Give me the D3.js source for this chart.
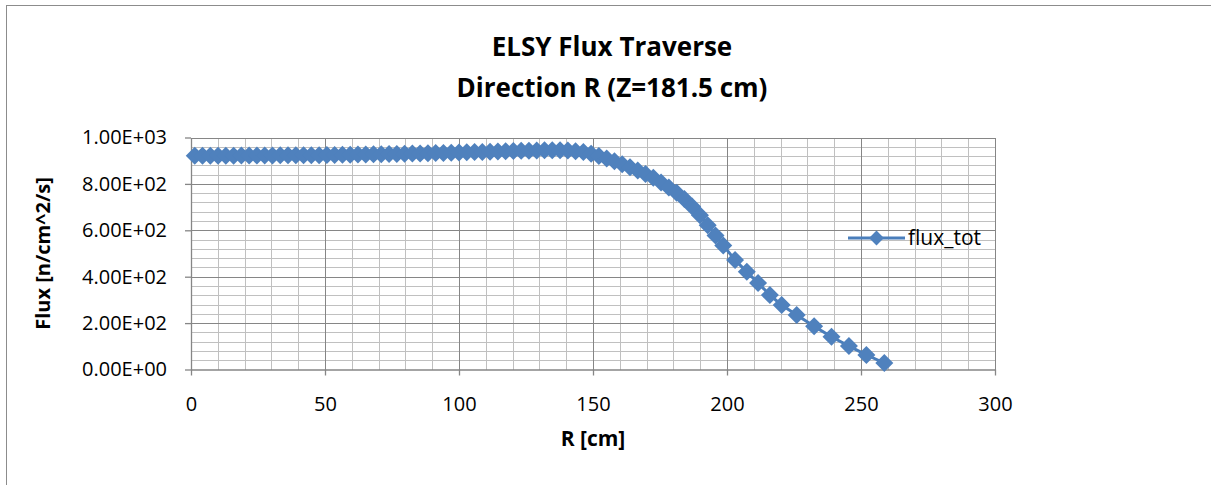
<!DOCTYPE html>
<html>
<head>
<meta charset="utf-8">
<script src="https://cdn.jsdelivr.net/npm/d3@7"></script>
<style>
    body { margin: 0; background: #fff; }
    svg { display: block; font-family: "Open Sans", Lato, sans-serif; }
</style>
</head>
<body>
<svg id="chart" width="1211" height="485"></svg>
<script>
// flux traverse along R
const radius = [
    1.4, 4.3, 7.2, 10.1, 13.0, 15.9, 18.8, 21.7, 24.6, 27.5,
    30.4, 33.3, 36.2, 39.1, 42.0, 44.9, 47.8, 50.7, 53.6, 56.5,
    59.4, 62.3, 65.2, 68.1, 71.0, 73.9, 76.8, 79.7, 82.6, 85.5,
    88.4, 91.3, 94.2, 97.1, 100.0, 102.9, 105.8, 108.7, 111.6, 114.5,
    117.4, 120.3, 123.2, 126.1, 129.0, 131.9, 134.8, 137.7, 140.6, 143.5,
    146.4, 149.3, 152.2, 155.1, 158.0, 160.9, 163.8, 166.7, 169.6, 172.5,
    175.4, 178.3, 181.2, 184.1, 187.0, 189.9, 192.8, 195.7, 198.6, 203.0,
    207.4, 211.6, 216.0, 220.4, 226.0, 232.5, 239.0, 245.5, 252.0, 258.7
];
const fluxTot = [
    921, 921, 921, 921, 921, 921, 922, 922, 922, 922,
    922, 923, 923, 923, 924, 924, 924, 925, 925, 926,
    926, 927, 927, 928, 928, 929, 929, 930, 931, 931,
    932, 933, 933, 934, 935, 936, 937, 938, 939, 940,
    941, 942, 943, 943, 944, 945, 945, 945, 944, 941,
    937, 930, 920, 910, 898, 885, 872, 858, 843, 826,
    806, 785, 762, 735, 703, 665, 622, 578, 535, 472,
    421, 373, 321, 278, 235, 186, 141, 101, 63, 28
];
const xTicks = [0, 50, 100, 150, 200, 250, 300];
const yTicks = [0, 200, 400, 600, 800, 1000];
const seriesName = "flux_tot";

const blue = "#4a7ebb";
const markerBlue = "#4f81bd";
const majorGrid = "#868686";
const minorGrid = "#c0c0c0";

const svg = d3.select("#chart");
const plot = {left: 191, right: 995, top: 137.5, bottom: 369.5};

svg.append("rect").attr("width", 1211).attr("height", 485).attr("fill", "#fff");

// chart area border (cropped at right and bottom)
svg.append("rect")
    .attr("x", 6.5).attr("y", 5.5)
    .attr("width", 1300).attr("height", 600)
    .attr("fill", "none")
    .attr("stroke", "#8c8c8c")
    .attr("stroke-width", 1);

const x = d3.scaleLinear().domain([0, 300]).range([plot.left, plot.right]);
const y = d3.scaleLinear().domain([0, 1000]).range([plot.bottom, plot.top]);

// minor gridlines
const grid = svg.append("g").attr("shape-rendering", "crispEdges");
grid.selectAll(".vminor")
    .data(d3.range(10, 300, 10).filter(v => v % 50 !== 0))
    .join("line")
    .attr("x1", d => Math.round(x(d)) + 0.5).attr("x2", d => Math.round(x(d)) + 0.5)
    .attr("y1", plot.top).attr("y2", plot.bottom)
    .attr("stroke", minorGrid).attr("stroke-width", 1.3);
grid.selectAll(".hminor")
    .data(d3.range(40, 1000, 40).filter(v => v % 200 !== 0))
    .join("line")
    .attr("y1", d => Math.round(y(d)) + 0.5).attr("y2", d => Math.round(y(d)) + 0.5)
    .attr("x1", plot.left).attr("x2", plot.right)
    .attr("stroke", minorGrid).attr("stroke-width", 1.3);

// major gridlines
grid.selectAll(".vmajor")
    .data(xTicks.slice(1))
    .join("line")
    .attr("x1", d => Math.round(x(d)) + 0.5).attr("x2", d => Math.round(x(d)) + 0.5)
    .attr("y1", plot.top).attr("y2", plot.bottom)
    .attr("stroke", majorGrid).attr("stroke-width", 1.3);
grid.selectAll(".hmajor")
    .data(yTicks.slice(1))
    .join("line")
    .attr("y1", d => Math.round(y(d)) + 0.5).attr("y2", d => Math.round(y(d)) + 0.5)
    .attr("x1", plot.left).attr("x2", plot.right)
    .attr("stroke", majorGrid).attr("stroke-width", 1.3);

// scientific labels like 8.00E+02
const sciFormat = v => {
    if (v === 0) return "0.00E+00";
    const e = Math.floor(Math.log10(Math.abs(v)));
    const m = v / Math.pow(10, e);
    return m.toFixed(2) + "E" + (e < 0 ? "-" : "+") + String(Math.abs(e)).padStart(2, "0");
};

const xAxis = svg.append("g")
    .attr("transform", `translate(0, ${plot.bottom})`)
    .call(d3.axisBottom(x).tickValues(xTicks).tickSize(6).tickSizeOuter(0).tickPadding(21));
const yAxis = svg.append("g")
    .attr("transform", `translate(${plot.left}, 0)`)
    .call(d3.axisLeft(y).tickValues(yTicks).tickFormat(sciFormat).tickSize(6).tickSizeOuter(0).tickPadding(18));

[xAxis, yAxis].forEach(ax => {
    ax.select(".domain").attr("stroke", majorGrid).attr("stroke-width", 1.3);
    ax.selectAll(".tick line").attr("stroke", majorGrid).attr("stroke-width", 1.3);
    ax.selectAll(".tick text")
        .attr("fill", "#000")
        .style("font-size", "20px")
        .style("font-family", "'Open Sans', Lato, sans-serif");
});

// series line + diamond markers
const line = d3.line().x((d, i) => x(radius[i])).y(d => y(d));
svg.append("path")
    .datum(fluxTot)
    .attr("d", line)
    .attr("fill", "none")
    .attr("stroke", blue)
    .attr("stroke-width", 3)
    .attr("stroke-linejoin", "round");

const diamond = d3.symbol().type(d3.symbolSquare).size(162);
svg.append("g").selectAll("path")
    .data(fluxTot)
    .join("path")
    .attr("d", diamond)
    .attr("transform", (d, i) => `translate(${x(radius[i])}, ${y(d)}) rotate(45)`)
    .attr("fill", markerBlue);

// titles
const title = svg.append("text")
    .attr("x", 612)
    .attr("text-anchor", "middle")
    .style("font-size", "26px")
    .style("font-weight", "bold");
title.append("tspan").attr("x", 612).attr("y", 56).text("ELSY Flux Traverse");
title.append("tspan").attr("x", 612).attr("y", 97).text("Direction R (Z=181.5 cm)");

svg.append("text")
    .attr("x", x(150))
    .attr("y", 446)
    .attr("text-anchor", "middle")
    .style("font-size", "21px")
    .style("font-weight", "bold")
    .text("R [cm]");

svg.append("text")
    .attr("transform", `translate(50, ${(plot.top + plot.bottom) / 2}) rotate(-90)`)
    .attr("text-anchor", "middle")
    .style("font-size", "20px")
    .style("font-weight", "bold")
    .text("Flux [n/cm^2/s]");

// legend
const legend = svg.append("g").attr("transform", "translate(848, 238)");
legend.append("line")
    .attr("x1", 0).attr("x2", 57)
    .attr("stroke", blue).attr("stroke-width", 3);
legend.append("path")
    .attr("d", d3.symbol().type(d3.symbolSquare).size(110))
    .attr("transform", "translate(28.5, 0) rotate(45)")
    .attr("fill", markerBlue);
legend.append("text")
    .attr("x", 60)
    .attr("y", 7)
    .style("font-size", "21px")
    .text(seriesName);
</script>
</body>
</html>
